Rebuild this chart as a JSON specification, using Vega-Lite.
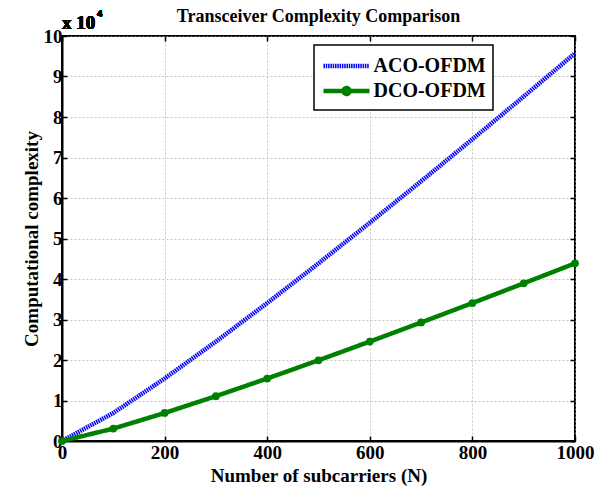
{
  "$schema": "https://vega.github.io/schema/vega-lite/v6.json",
  "width": 513,
  "height": 405,
  "autosize": {"type": "none"},
  "padding": {"left": 62, "top": 36, "right": 32, "bottom": 53},
  "background": "white",
  "title": {
    "text": "Transceiver Complexity Comparison",
    "font": "Liberation Serif",
    "fontSize": 18,
    "fontWeight": "bold",
    "color": "black",
    "anchor": "middle",
    "offset": -18
  },
  "data": {
    "values": [
      {"N": 0, "series": "ACO-OFDM", "value": 0},
      {"N": 100, "series": "ACO-OFDM", "value": 6915},
      {"N": 200, "series": "ACO-OFDM", "value": 15430},
      {"N": 300, "series": "ACO-OFDM", "value": 24550},
      {"N": 400, "series": "ACO-OFDM", "value": 34060},
      {"N": 500, "series": "ACO-OFDM", "value": 43863},
      {"N": 600, "series": "ACO-OFDM", "value": 53898},
      {"N": 700, "series": "ACO-OFDM", "value": 64127},
      {"N": 800, "series": "ACO-OFDM", "value": 74521},
      {"N": 900, "series": "ACO-OFDM", "value": 85059},
      {"N": 1000, "series": "ACO-OFDM", "value": 95726},
      {"N": 0, "series": "DCO-OFDM", "value": 0},
      {"N": 100, "series": "DCO-OFDM", "value": 3058},
      {"N": 200, "series": "DCO-OFDM", "value": 6915},
      {"N": 300, "series": "DCO-OFDM", "value": 11074},
      {"N": 400, "series": "DCO-OFDM", "value": 15430},
      {"N": 500, "series": "DCO-OFDM", "value": 19932},
      {"N": 600, "series": "DCO-OFDM", "value": 24550},
      {"N": 700, "series": "DCO-OFDM", "value": 29265},
      {"N": 800, "series": "DCO-OFDM", "value": 34060},
      {"N": 900, "series": "DCO-OFDM", "value": 38930},
      {"N": 1000, "series": "DCO-OFDM", "value": 43863}
    ]
  },
  "resolve": {"axis": {"x": "independent", "y": "independent"}},
  "layer": [
    {
      "mark": {"type": "line", "strokeWidth": 4.5},
      "encoding": {
        "x": {
          "field": "N", "type": "quantitative",
          "scale": {"domain": [0, 1000], "nice": false},
          "axis": {
            "title": "Number of subcarriers (N)",
            "values": [0, 200, 400, 600, 800, 1000],
            "format": "d",
            "labelPadding": 7,
            "titlePadding": 4
          }
        },
        "y": {
          "field": "value", "type": "quantitative",
          "scale": {"domain": [0, 100000], "nice": false},
          "axis": {
            "title": "Computational complexity",
            "values": [0, 10000, 20000, 30000, 40000, 50000, 60000, 70000, 80000, 90000, 100000],
            "labelExpr": "datum.value / 10000",
            "labelPadding": 5,
            "titlePadding": 2
          }
        },
        "color": {
          "field": "series", "type": "nominal",
          "scale": {"domain": ["ACO-OFDM", "DCO-OFDM"], "range": ["#0000ff", "#008000"]},
          "legend": {
            "title": null,
            "orient": "none",
            "legendX": 252,
            "legendY": 9,
            "strokeColor": "black",
            "fillColor": "white",
            "padding": 7,
            "labelFont": "Liberation Serif",
            "labelFontSize": 20,
            "labelFontWeight": "bold",
            "labelColor": "black",
            "symbolSize": 529,
            "symbolStrokeWidth": 4.5,
            "symbolOffset": 11.5,
            "labelOffset": 13,
            "rowPadding": 1,
            "encode": {
              "legend": {"update": {"strokeWidth": {"value": 1.5}}},
              "symbols": {
                "update": {
                  "shape": {"signal": "datum.value == 'DCO-OFDM' ? 'M-2,0H2M0.26,0A0.26,0.26,0,1,1,-0.26,0A0.26,0.26,0,1,1,0.26,0Z' : 'M-2,0H2'"},
                  "fill": {"signal": "datum.value == 'DCO-OFDM' ? '#008000' : 'transparent'"}
                }
              }
            }
          }
        },
        "strokeDash": {
          "field": "series", "type": "nominal",
          "scale": {"domain": ["ACO-OFDM", "DCO-OFDM"], "range": [[1.5, 0.8], [1, 0]]}
        }
      }
    },
    {
      "transform": [{"filter": "datum.series == 'DCO-OFDM'"}],
      "mark": {"type": "point", "filled": true, "size": 60, "color": "#008000", "opacity": 1},
      "encoding": {
        "x": {
          "field": "N", "type": "quantitative",
          "axis": {"orient": "top", "title": null, "labels": false, "grid": false, "domain": false,
                   "values": [0, 200, 400, 600, 800, 1000]}
        },
        "y": {
          "field": "value", "type": "quantitative",
          "axis": {"orient": "right", "title": null, "labels": false, "grid": false, "domain": false,
                   "values": [0, 10000, 20000, 30000, 40000, 50000, 60000, 70000, 80000, 90000, 100000]}
        }
      }
    },
    {
      "mark": {"type": "text", "font": "Liberation Serif", "fontSize": 19, "fontWeight": "bold", "align": "left", "baseline": "alphabetic", "dx": 0, "dy": -7, "color": "black"},
      "encoding": {
        "x": {"datum": 0, "type": "quantitative", "axis": null},
        "y": {"datum": 100000, "type": "quantitative", "axis": null},
        "text": {"value": "x 10"}
      }
    },
    {
      "mark": {"type": "text", "font": "Liberation Serif", "fontSize": 11, "fontWeight": "bold", "align": "left", "baseline": "alphabetic", "dx": 35, "dy": -19, "color": "black"},
      "encoding": {
        "x": {"datum": 0, "type": "quantitative", "axis": null},
        "y": {"datum": 100000, "type": "quantitative", "axis": null},
        "text": {"value": "4"}
      }
    }
  ],
  "config": {
    "view": {"stroke": "black", "strokeWidth": 2},
    "axis": {
      "labelFont": "Liberation Serif",
      "labelFontSize": 19,
      "labelFontWeight": "bold",
      "labelColor": "black",
      "labelFlush": false,
      "titleFont": "Liberation Serif",
      "titleFontSize": 19,
      "titleFontWeight": "bold",
      "titleColor": "black",
      "domainColor": "black",
      "domainWidth": 2,
      "tickColor": "black",
      "tickSize": -5,
      "tickWidth": 1.5,
      "gridColor": "#b0b0b0",
      "gridDash": [2, 2],
      "gridWidth": 0.7
    }
  }
}
